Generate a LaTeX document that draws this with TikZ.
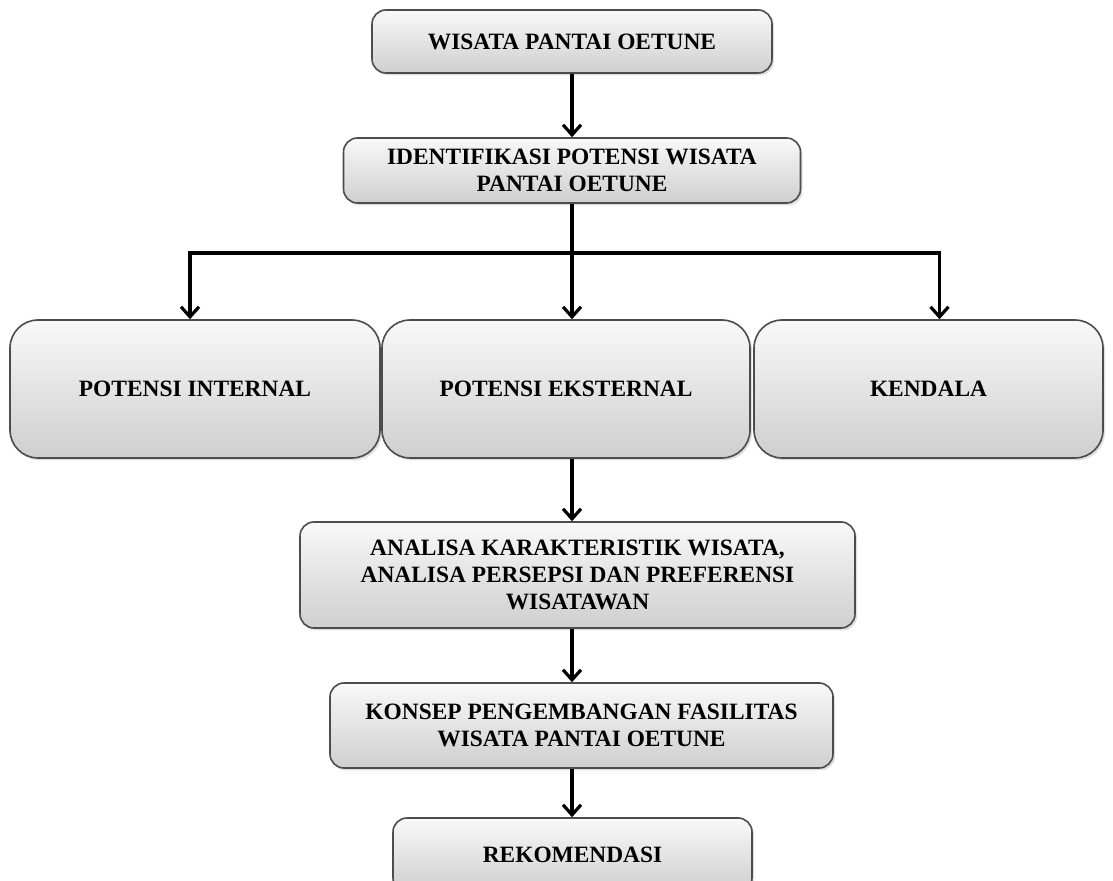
\documentclass[tikz,border=0pt]{standalone}
\usepackage{fontspec}
\setmainfont{Liberation Serif}
\usetikzlibrary{arrows.meta, shadows}

\begin{document}
\begin{tikzpicture}[
  x=0.5pt, y=-0.5pt,
  box/.style={draw=black!70, line width=0.8pt, rounded corners=7pt,
              top color=gray!5, bottom color=gray!38,
              align=center, inner sep=2pt,
              font=\bfseries\fontsize{11.7}{13.5}\selectfont,
              drop shadow={opacity=0.25, shadow xshift=1pt, shadow yshift=-1.2pt}},
  bigbox/.style={box, rounded corners=14pt, minimum height=69pt},
  flow/.style={line width=1.6pt, -{Straight Barb[length=5pt, width=9pt, line width=1.6pt]}}
]
  \useasboundingbox (0,0) rectangle (1113,881);

  \node[box, minimum width=200pt, minimum height=31.5pt]   (wisata)  at (572, 41.5)  {WISATA PANTAI OETUNE};
  \node[box, minimum width=228.5pt, minimum height=32.5pt] (ident)   at (572, 170.5) {IDENTIFIKASI POTENSI WISATA\\PANTAI OETUNE};
  \node[bigbox, minimum width=185pt]   (internal) at (195, 389)   {POTENSI INTERNAL};
  \node[bigbox, minimum width=184pt]   (eksternal) at (566, 389)  {POTENSI EKSTERNAL};
  \node[bigbox, minimum width=174.5pt] (kendala)  at (928.5, 389) {KENDALA};
  \node[box, minimum width=277.5pt, minimum height=53pt]   (analisa) at (577.5, 575) {ANALISA KARAKTERISTIK WISATA,\\ANALISA PERSEPSI DAN PREFERENSI\\WISATAWAN};
  \node[box, minimum width=251.5pt, minimum height=42.5pt] (konsep)  at (581.5, 725.5) {KONSEP PENGEMBANGAN FASILITAS\\WISATA PANTAI OETUNE};
  \node[box, minimum width=179.5pt, minimum height=37pt]   (rekom)   at (572.5, 855) {REKOMENDASI};

  \coordinate (axis)   at (572, 0);
  \coordinate (branch) at (572, 253);

  \draw[flow] (wisata) -- (ident);
  \draw[line width=1.6pt] (ident.south -| axis) -- (branch);
  \draw[flow] (branch) -| ([xshift=-2.5pt]internal.north);
  \draw[flow] (branch) -- (branch |- eksternal.north);
  \draw[flow] (branch) -| ([xshift=5.5pt]kendala.north);
  \draw[flow] (eksternal.south -| axis) -- (analisa.north -| axis);
  \draw[flow] (analisa.south -| axis) -- (konsep.north -| axis);
  \draw[flow] (konsep.south -| axis) -- (rekom.north -| axis);
\end{tikzpicture}
\end{document}
